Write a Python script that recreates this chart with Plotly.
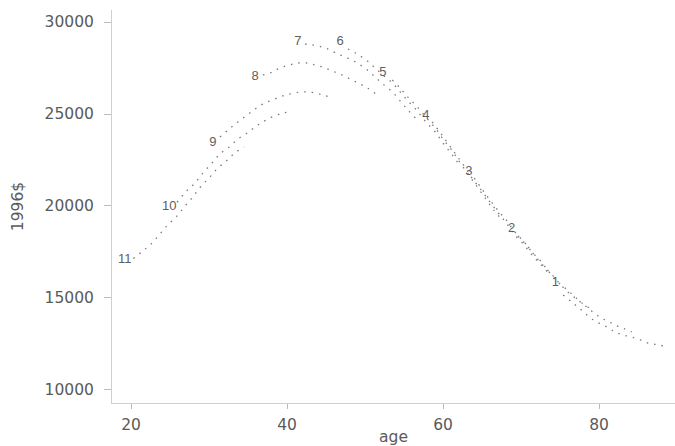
import plotly.graph_objects as go

# cohort profiles (age, 1996$)
c11_age = [20.3, 21.5, 22.7, 23.7, 24.7, 25.9, 26.9, 27.9, 28.9, 30.0, 31.0, 32.2, 33.3, 34.5]
c11_val = [17150, 17550, 17990, 18480, 18970, 19460, 19990, 20480, 21030, 21520, 22010, 22440, 22880, 23200]

c10_age = [25.9, 27.0, 28.2, 29.2, 30.4, 31.4, 32.6, 33.7, 34.9, 35.9, 36.9, 38.1, 39.4, 40.4]
c10_val = [20200, 20760, 21250, 21790, 22340, 22830, 23210, 23640, 23970, 24290, 24570, 24840, 25050, 25110]

c9_age = [31.4, 32.6, 33.7, 34.9, 35.9, 36.9, 38.1, 39.4, 40.4, 41.4, 42.3, 43.6, 44.7, 45.8]
c9_val = [23750, 24190, 24570, 24950, 25270, 25540, 25760, 25980, 26090, 26170, 26200, 26140, 26020, 25870]

c8_age = [36.9, 38.1, 39.1, 40.3, 41.4, 42.6, 43.6, 44.6, 45.8, 46.8, 47.8, 49.1, 50.3, 51.4]
c8_val = [27120, 27280, 27500, 27660, 27770, 27770, 27660, 27550, 27340, 27170, 26960, 26690, 26410, 26090]

c7_age = [42.3, 43.3, 44.5, 45.5, 46.5, 47.8, 49.0, 50.3, 51.3, 52.3, 53.5, 54.5, 55.5, 56.7]
c7_val = [28800, 28750, 28640, 28480, 28260, 28040, 27770, 27390, 27010, 26630, 26200, 25710, 25220, 24670]

c6_age = [47.8, 49.0, 50.3, 51.3, 52.3, 53.5, 54.5, 55.5, 56.7, 57.7, 59.0, 60.0, 61.2, 62.2]
c6_val = [28530, 28260, 27880, 27500, 27120, 26690, 26200, 25710, 25160, 24620, 24020, 23420, 22770, 22170]

c5_age = [53.5, 54.5, 55.5, 56.7, 57.9, 59.0, 60.0, 61.2, 62.2, 63.3, 64.4, 65.5, 66.5, 67.7]
c5_val = [26850, 26410, 25920, 25380, 24780, 24240, 23640, 22990, 22340, 21690, 21030, 20380, 19780, 19190]

c4_age = [58.6, 59.6, 60.6, 61.7, 62.8, 63.8, 64.9, 66.0, 67.1, 68.2, 69.2, 70.4, 71.4, 72.6, 73.6]
c4_val = [24570, 24020, 23420, 22770, 22120, 21470, 20870, 20220, 19620, 19020, 18420, 17880, 17340, 16790, 16300]

c3_age = [64.0, 65.0, 66.0, 67.1, 68.2, 69.2, 70.4, 71.4, 72.6, 73.6, 74.6, 75.8, 76.8, 77.8, 78.8]
c3_val = [21520, 20920, 20330, 19730, 19190, 18590, 18040, 17500, 16960, 16410, 15920, 15490, 15110, 14730, 14460]

c2_age = [69.6, 70.8, 71.8, 72.8, 74.0, 75.0, 76.0, 77.1, 78.1, 79.2, 80.3, 81.3, 82.3, 83.3, 84.2]
c2_val = [18370, 17830, 17280, 16790, 16250, 15760, 15330, 14950, 14620, 14240, 13910, 13700, 13480, 13320, 13150]

c1_age = [75.4, 76.5, 77.6, 78.6, 79.7, 81.0, 82.1, 83.1, 84.2, 85.3, 86.3, 87.6, 88.9]
c1_val = [15160, 14780, 14400, 14020, 13700, 13420, 13150, 12990, 12880, 12720, 12550, 12450, 12340]

# cohort number labels
lab_text = ["11", "10", "9", "8", "7", "6", "5", "4", "3", "2", "1"]
lab_age = [19.2, 24.9, 30.5, 35.9, 41.4, 46.8, 52.3, 57.8, 63.3, 68.8, 74.4]
lab_val = [17070, 19950, 23420, 27010, 28910, 28910, 27230, 24890, 21850, 18750, 15820]

x_ticks = [20, 40, 60, 80]
y_ticks = [10000, 15000, 20000, 25000, 30000]

curves = [
    (c11_age, c11_val), (c10_age, c10_val), (c9_age, c9_val), (c8_age, c8_val),
    (c7_age, c7_val), (c6_age, c6_val), (c5_age, c5_val), (c4_age, c4_val),
    (c3_age, c3_val), (c2_age, c2_val), (c1_age, c1_val),
]

FONT = "DejaVu Sans, Liberation Sans, sans-serif"
TXT = "#5a5a5a"

fig = go.Figure()
for ages, vals in curves:
    fig.add_trace(go.Scatter(
        x=ages, y=vals, mode="lines",
        line=dict(color="#7a7a7a", width=1.3, dash="1.5px,6px", shape="spline"),
        hoverinfo="skip", showlegend=False,
    ))

fig.add_trace(go.Scatter(
    x=lab_age, y=lab_val, mode="text", text=lab_text,
    textfont=dict(family="Liberation Sans, Arial, sans-serif", size=13, color="#606060"),
    textposition="middle center", showlegend=False, hoverinfo="skip",
))

fig.update_layout(
    width=675, height=446,
    margin=dict(l=112, r=0, t=10, b=43),
    paper_bgcolor="white", plot_bgcolor="white",
    font=dict(family=FONT, size=15.5, color=TXT),
)
fig.update_xaxes(
    range=[17.56, 89.74], tickvals=x_ticks, ticks="outside", ticklen=5,
    tickcolor="#bbbbbb", showline=True, linecolor="#cfcfcf", linewidth=1,
    showgrid=False, zeroline=False, tickfont=dict(size=15.5, color=TXT),
    ticklabelstandoff=2,
    title=dict(text="age", font=dict(size=15.5, color=TXT), standoff=2),
)
fig.update_yaxes(
    range=[9293, 30652], tickvals=y_ticks, tickformat="d", ticks="outside", ticklen=7,
    tickcolor="#bbbbbb", showline=True, linecolor="#cfcfcf", linewidth=1,
    showgrid=False, zeroline=False, tickfont=dict(size=15.5, color=TXT),
    ticklabelstandoff=7,
    title=dict(text="1996$", font=dict(size=15.5, color=TXT), standoff=17),
)

fig.write_html("out.html")
